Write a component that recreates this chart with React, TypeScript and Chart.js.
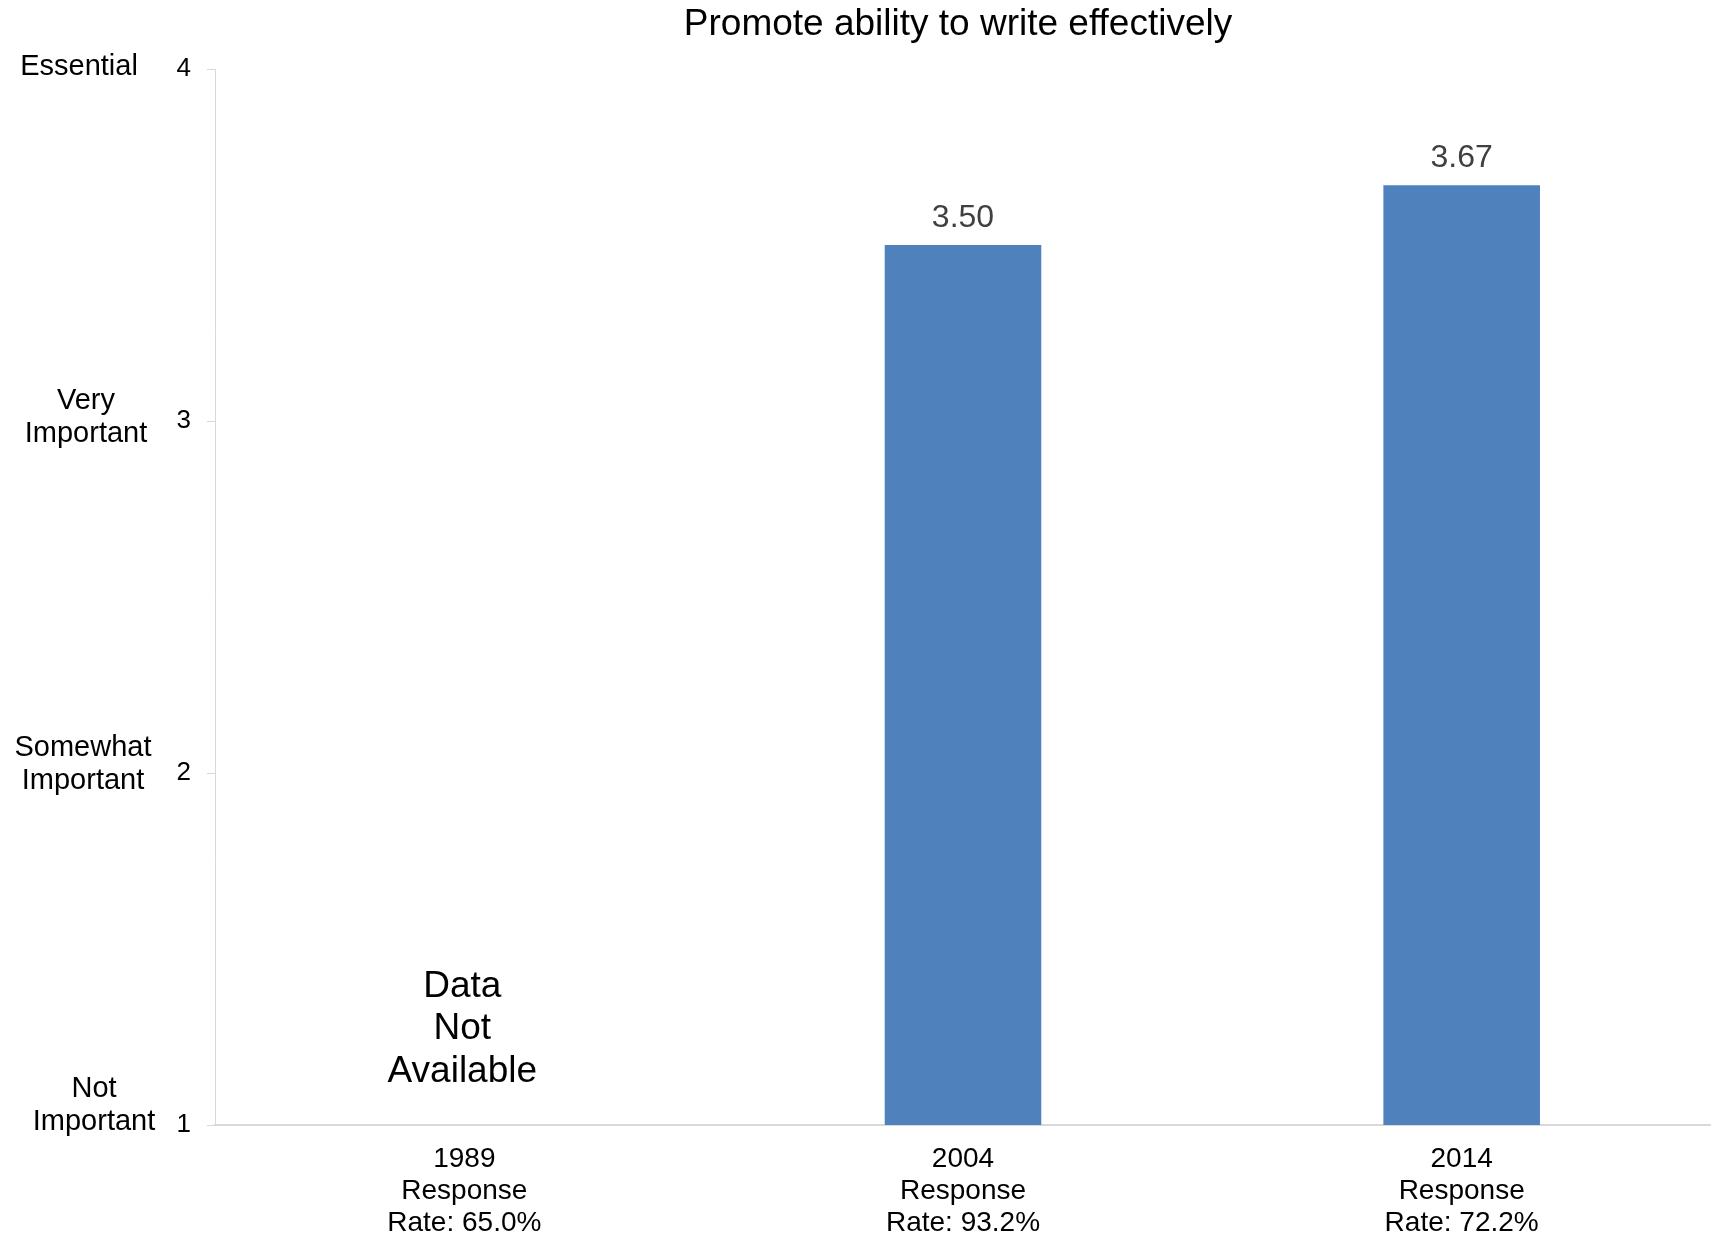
import React, { useEffect, useRef } from "react";
import { Chart, registerables } from "chart.js";

Chart.register(...registerables);

const title = "Promote ability to write effectively";
const categories = [
  ["1989", "Response", "Rate: 65.0%"],
  ["2004", "Response", "Rate: 93.2%"],
  ["2014", "Response", "Rate: 72.2%"],
];
const values: (number | null)[] = [null, 3.5, 3.67];
const missingText = ["Data", "Not", "Available"];
const yTickValues = [1, 2, 3, 4];
const yScaleLabels = [
  ["Not", "Important"],
  ["Somewhat", "Important"],
  ["Very", "Important"],
  ["Essential"],
];

const FONT = "'Liberation Sans', Arial, sans-serif";

export default function App() {
  const ref = useRef<HTMLCanvasElement | null>(null);

  useEffect(() => {
    if (!ref.current) return;

    const overlay = {
      id: "overlay",
      afterDraw(chart: any) {
        const ctx = chart.ctx;
        const area = chart.chartArea;
        const xs = chart.scales.x;
        const ys = chart.scales.y;
        ctx.save();
        // title
        ctx.fillStyle = "#000";
        ctx.font = `37px ${FONT}`;
        ctx.textAlign = "center";
        ctx.textBaseline = "middle";
        ctx.fillText(title, (area.left + area.right) / 2 - 5, 25);

        // y scale word labels
        const cx = [94, 83, 86, 79];
        const dy = [-20, -9, -4, -2];
        ctx.font = `29px ${FONT}`;
        yScaleLabels.forEach((lines, i) => {
          const yc = ys.getPixelForValue(yTickValues[i]) + dy[i];
          const lh = 33;
          const start = yc - ((lines.length - 1) * lh) / 2;
          lines.forEach((ln, j) => ctx.fillText(ln, cx[i], start + j * lh));
        });

        // data labels and missing text
        values.forEach((v, i) => {
          const x = xs.getPixelForValue(i);
          if (v === null) {
            ctx.fillStyle = "#000";
            ctx.font = `37px ${FONT}`;
            const lh = 42.5;
            const yc = area.bottom - 96;
            const start = yc - lh;
            missingText.forEach((ln, j) => ctx.fillText(ln, x - 2, start + j * lh));
          } else {
            ctx.fillStyle = "#404040";
            ctx.font = `32px ${FONT}`;
            ctx.fillText(v.toFixed(2), x, ys.getPixelForValue(v) - 27);
          }
        });
        ctx.restore();
      },
    };

    const chart = new Chart(ref.current, {
      type: "bar",
      data: {
        labels: categories,
        datasets: [
          {
            data: values,
            backgroundColor: "#4F81BD",
            borderWidth: 0,
            categoryPercentage: 1,
            barPercentage: 0.314,
          },
        ],
      },
      options: {
        responsive: false,
        animation: false,
        layout: { padding: { top: 69, right: 0, left: 0, bottom: 0 } },
        plugins: {
          legend: { display: false },
          title: { display: false },
          tooltip: { enabled: false },
        },
        scales: {
          x: {
            grid: { display: false, drawTicks: false },
            border: { color: "#D9D9D9", width: 2 },
            ticks: {
              color: "#000",
              font: { family: FONT, size: 28, lineHeight: 32 / 28 },
              padding: 18,
              maxRotation: 0,
              autoSkip: false,
            },
            afterFit: (s: any) => {
              s.height = 115;
            },
          },
          y: {
            min: 1,
            max: 4,
            grid: {
              drawOnChartArea: false,
              tickLength: 8,
              color: "#D9D9D9",
            },
            border: { color: "#D9D9D9", width: 1 },
            ticks: {
              stepSize: 1,
              color: "#000",
              font: { family: FONT, size: 26 },
              padding: 16,
            },
            afterFit: (s: any) => {
              s.width = 215;
            },
          },
        },
      },
      plugins: [overlay],
    });
    return () => chart.destroy();
  }, []);

  return (
    <div style={{ position: "fixed", left: 0, top: 0, width: 1711, height: 1240, background: "#fff" }}>
      <canvas ref={ref} width={1711} height={1240} style={{ display: "block" }} />
    </div>
  );
}
